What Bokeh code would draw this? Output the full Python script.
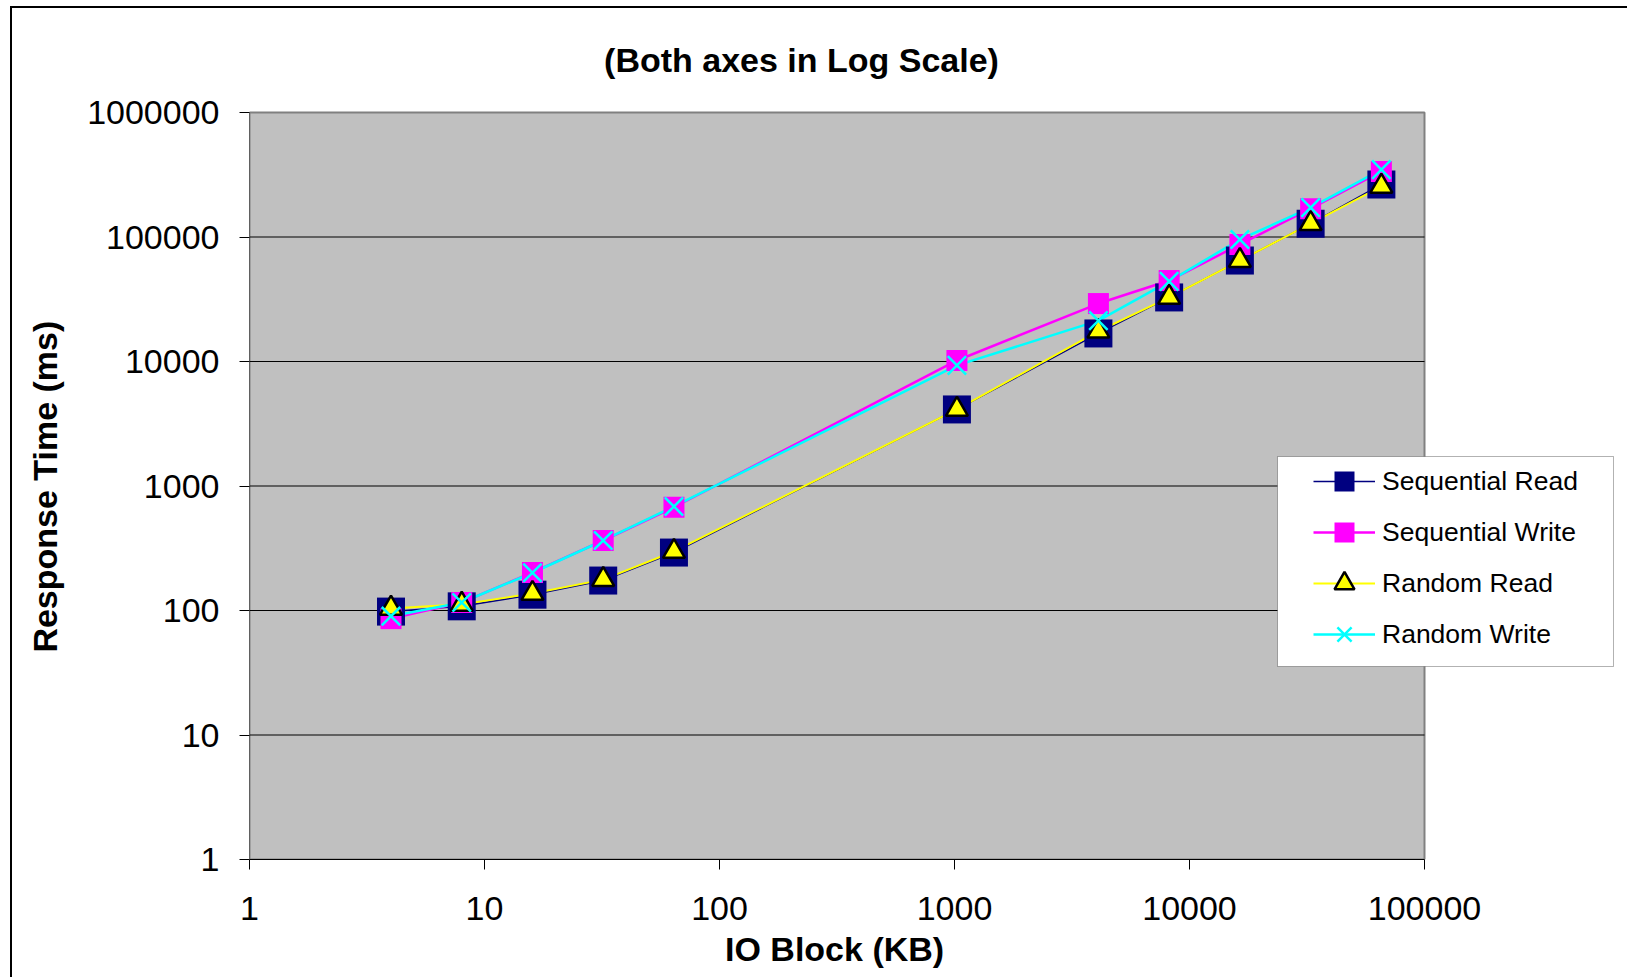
import math
from bokeh.plotting import figure
from bokeh.models import (Range1d, FixedTicker, Legend, LegendItem, Label,
                          BoxAnnotation, NumeralTickFormatter)
from bokeh.embed import file_html
from bokeh.resources import INLINE

# ---------------- data ----------------
io_block_kb = [4, 8, 16, 32, 64, 1024, 4096, 8192, 16384, 32768, 65536]
seq_read = [98, 108, 134, 174, 292, 4120, 16800, 32700, 64700, 128000, 264000]
seq_write = [86, 116, 202, 365, 675, 10190, 29200, 44700, 87100, 169000, 336000]
rand_read = [104, 112, 137, 177, 298, 4120, 17500, 32700, 64700, 128000, 255000]
rand_write = [90, 116, 201, 365, 685, 9300, 21300, 44000, 95500, 172000, 348000]

series_names = ["Sequential Read", "Sequential Write", "Random Read", "Random Write"]

x_ticks = [1, 10, 100, 1000, 10000, 100000]
x_tick_labels = ["1", "10", "100", "1000", "10000", "100000"]
y_ticks = [1, 10, 100, 1000, 10000, 100000, 1000000]
y_tick_labels = ["1", "10", "100", "1000", "10000", "100000", "1000000"]

title_text = "(Both axes in Log Scale)"
x_title = "IO Block (KB)"
y_title = "Response Time (ms)"

# ---------------- layout (pixels) ----------------
W, H = 1627, 977
PL, PR, PT, PB = 249, 1424, 112, 859          # visible plot area
FONT = "Liberation Sans"
NBSP = "\u00a0"

# the Bokeh frame spans from the axes to the right / top canvas edges,
# so that the title and the legend box can be drawn inside it
x_dec_px = (PR - PL) / (math.log10(x_ticks[-1]) - math.log10(x_ticks[0]))
y_dec_px = (PB - PT) / (math.log10(y_ticks[-1]) - math.log10(y_ticks[0]))
x_end = 10 ** (math.log10(x_ticks[-1]) + (W - PR) / x_dec_px)
y_end = 10 ** (math.log10(y_ticks[-1]) + PT / y_dec_px)

p = figure(width=W, height=H, x_axis_type="log", y_axis_type="log",
           x_range=Range1d(x_ticks[0], x_end),
           y_range=Range1d(y_ticks[0], y_end),
           output_backend="svg", toolbar_location=None,
           min_border_left=PL, min_border_right=0,
           min_border_top=0, min_border_bottom=H - PB)

p.background_fill_alpha = 0
p.border_fill_alpha = 0
p.outline_line_color = None
p.xgrid.visible = False
p.ygrid.visible = False

# white page with the chart's outer border (left and top edges visible)
p.styles = {
    "background": ("linear-gradient(#000, #000) 10px 6px / 2px calc(100% - 6px) no-repeat, "
                   "linear-gradient(#000, #000) 10px 6px / calc(100% - 10px) 2px no-repeat, "
                   "#ffffff"),
}

for ax, ticks, labels in ((p.xaxis[0], x_ticks, x_tick_labels),
                          (p.yaxis[0], y_ticks, y_tick_labels)):
    ax.ticker = FixedTicker(ticks=ticks)
    ax.formatter = NumeralTickFormatter(format="0")
    ax.major_label_overrides = {t: s for t, s in zip(ticks, labels)}
    ax.bounds = (ticks[0], ticks[-1])
    ax.axis_line_color = "black"
    ax.axis_line_width = 1
    ax.major_tick_line_color = "black"
    ax.major_tick_out = 10
    ax.major_tick_in = 0
    ax.minor_tick_out = 0
    ax.minor_tick_in = 0
    ax.major_label_text_font = FONT
    ax.major_label_text_font_size = "34px"
    ax.major_label_text_color = "black"
    ax.axis_label_text_font = FONT
    ax.axis_label_text_font_style = "bold"
    ax.axis_label_text_font_size = "34px"
    ax.axis_label_text_color = "black"

# axis titles are centred on the frame; trailing no-break spaces move them
# back to the centre of the visible plot area
p.xaxis.axis_label = x_title + NBSP * 22
p.yaxis.axis_label = y_title + NBSP * 12
p.xaxis.major_label_standoff = 27
p.yaxis.major_label_standoff = 20
p.xaxis.axis_label_standoff = 7
p.yaxis.axis_label_standoff = 20
p.yaxis.axis_line_color = "#606060"

# gray plot area with its border
p.quad(left=x_ticks[0], right=x_ticks[-1], bottom=y_ticks[0], top=y_ticks[-1],
       fill_color="#C0C0C0", line_color="#808080", line_width=2)
# horizontal major gridlines
p.segment(x0=x_ticks[0], x1=x_ticks[-1], y0=y_ticks[1:-1], y1=y_ticks[1:-1],
          line_color="black", line_width=1)

# title
p.add_layout(Label(x=801 - PL, y=PB - 59, x_units="screen", y_units="screen",
                   text=title_text, text_align="center", text_baseline="middle",
                   text_font=FONT, text_font_style="bold", text_font_size="34px",
                   text_color="black"))

# lines
l_sr = p.line(io_block_kb, seq_read, line_color="#000080", line_width=1.5)
l_sw = p.line(io_block_kb, seq_write, line_color="#FF00FF", line_width=2.5)
l_rr = p.line(io_block_kb, rand_read, line_color="#FFFF00", line_width=2)
l_rw = p.line(io_block_kb, rand_write, line_color="#00FFFF", line_width=2.5)

# markers
m_sr = p.scatter(io_block_kb, seq_read, marker="square", size=28,
                 fill_color="#000080", line_color="#000080", line_width=0)
m_sw = p.scatter(io_block_kb, seq_write, marker="square", size=21,
                 fill_color="#FF00FF", line_color="#FF00FF", line_width=0)
m_rr = p.scatter(io_block_kb, rand_read, marker="triangle", size=22,
                 fill_color="#FFFF00", line_color="black", line_width=2.5)
m_rw = p.scatter(io_block_kb, rand_write, marker="x", size=26,
                 line_color="#00FFFF", line_width=2.5)

# legend box
p.add_layout(BoxAnnotation(left=1277 - PL, right=1613 - PL,
                           top=PB - 456, bottom=PB - 666,
                           left_units="screen", right_units="screen",
                           top_units="screen", bottom_units="screen",
                           fill_color="white", fill_alpha=1,
                           line_color="black", line_width=1))

legend = Legend(items=[LegendItem(label=series_names[0], renderers=[l_sr, m_sr]),
                       LegendItem(label=series_names[1], renderers=[l_sw, m_sw]),
                       LegendItem(label=series_names[2], renderers=[l_rr, m_rr]),
                       LegendItem(label=series_names[3], renderers=[l_rw, m_rw])],
                location=(1313 - PL, PB - 659),
                padding=0, margin=0, spacing=1,
                glyph_width=62, glyph_height=50, label_height=50,
                label_standoff=7,
                label_text_font=FONT, label_text_font_size="26.5px",
                label_text_color="black",
                background_fill_alpha=0, border_line_alpha=0)
p.add_layout(legend)

open("out.html", "w").write(file_html(p, INLINE))
